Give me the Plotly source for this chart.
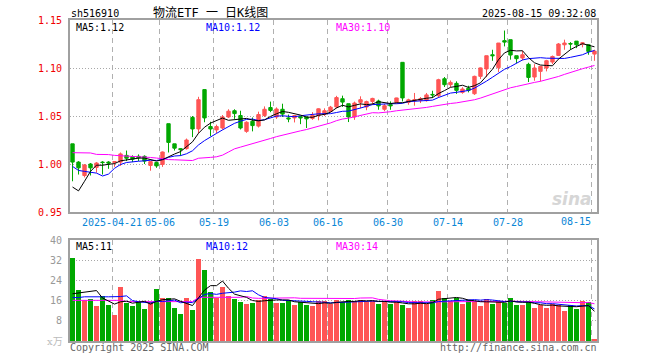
import plotly.graph_objects as go
import pandas as pd

# ---------------- data ----------------
dates = [
    "2025-04-10", "2025-04-11", "2025-04-14", "2025-04-15", "2025-04-16", "2025-04-17", "2025-04-18",
    "2025-04-21", "2025-04-22", "2025-04-23", "2025-04-24", "2025-04-25", "2025-04-28", "2025-04-29", "2025-04-30",
    "2025-05-06", "2025-05-07", "2025-05-08", "2025-05-09", "2025-05-12", "2025-05-13", "2025-05-14", "2025-05-15",
    "2025-05-16", "2025-05-19", "2025-05-20", "2025-05-21", "2025-05-22", "2025-05-23", "2025-05-26", "2025-05-27",
    "2025-05-28", "2025-05-29", "2025-05-30", "2025-06-03", "2025-06-04", "2025-06-05", "2025-06-06", "2025-06-09",
    "2025-06-10", "2025-06-11", "2025-06-12", "2025-06-13", "2025-06-16", "2025-06-17", "2025-06-18", "2025-06-19",
    "2025-06-20", "2025-06-23", "2025-06-24", "2025-06-25", "2025-06-26", "2025-06-27", "2025-06-30", "2025-07-01",
    "2025-07-02", "2025-07-03", "2025-07-04", "2025-07-07", "2025-07-08", "2025-07-09", "2025-07-10", "2025-07-11",
    "2025-07-14", "2025-07-15", "2025-07-16", "2025-07-17", "2025-07-18", "2025-07-21", "2025-07-22", "2025-07-23",
    "2025-07-24", "2025-07-25", "2025-07-28", "2025-07-29", "2025-07-30", "2025-07-31", "2025-08-01", "2025-08-04",
    "2025-08-05", "2025-08-06", "2025-08-07", "2025-08-08", "2025-08-11", "2025-08-12", "2025-08-13", "2025-08-14",
    "2025-08-15",
]
opens = [
    1.021, 1.002, 0.988, 1.000, 0.9965, 1.002, 1.002, 1.0015, 1.002, 1.009,
    1.0075, 1.008, 1.008, 0.9985, 1.0015, 0.9995, 1.042, 1.021, 1.016, 1.016,
    1.0485, 1.0365, 1.0775, 1.039, 1.0355, 1.0375, 1.049, 1.0555, 1.0505, 1.034,
    1.0445, 1.0395, 1.0505, 1.0588, 1.049, 1.057, 1.048, 1.048, 1.0493, 1.049,
    1.0475, 1.0505, 1.0515, 1.0548, 1.0594, 1.068, 1.0628, 1.049, 1.0642, 1.0594,
    1.0652, 1.0656, 1.057, 1.062, 1.0642, 1.1059, 1.0642, 1.066, 1.0663, 1.066,
    1.0725, 1.0711, 1.0888, 1.0826, 1.084, 1.0746, 1.079, 1.0732, 1.0913, 1.099,
    1.1138, 1.1003, 1.1285, 1.1295, 1.1128, 1.1104, 1.1038, 1.0906, 1.0965, 1.100,
    1.1062, 1.1131, 1.1242, 1.1255, 1.128, 1.125, 1.1242, 1.1145,
]
highs = [
    1.021, 1.003, 1.000, 1.001, 1.002, 1.003, 1.003, 1.003, 1.012, 1.014,
    1.009, 1.010, 1.009, 1.003, 1.002, 1.013, 1.042, 1.021, 1.0165, 1.0265,
    1.050, 1.070, 1.0775, 1.044, 1.041, 1.051, 1.057, 1.057, 1.0555, 1.0445,
    1.0485, 1.0545, 1.060, 1.065, 1.059, 1.0628, 1.0515, 1.051, 1.050, 1.0493,
    1.054, 1.058, 1.058, 1.0605, 1.071, 1.0712, 1.0628, 1.065, 1.0705, 1.066,
    1.069, 1.067, 1.0625, 1.0652, 1.069, 1.1059, 1.068, 1.074, 1.0697, 1.074,
    1.0763, 1.0888, 1.0906, 1.087, 1.0861, 1.080, 1.0815, 1.092, 1.1005, 1.1128,
    1.119, 1.126, 1.139, 1.1295, 1.1128, 1.118, 1.1055, 1.104, 1.102, 1.1085,
    1.113, 1.126, 1.1295, 1.127, 1.128, 1.127, 1.1245, 1.119,
]
lows = [
    0.982, 0.989, 0.986, 0.988, 0.991, 0.989, 0.995, 0.997, 0.998, 1.003,
    1.002, 1.003, 1.000, 0.993, 0.996, 0.997, 1.012, 1.014, 1.0085, 1.015,
    1.028, 1.032, 1.0435, 1.029, 1.032, 1.036, 1.048, 1.047, 1.036, 1.0325,
    1.034, 1.038, 1.049, 1.054, 1.047, 1.049, 1.0435, 1.0433, 1.0415, 1.0375,
    1.046, 1.0455, 1.050, 1.054, 1.058, 1.0594, 1.0437, 1.046, 1.058, 1.056,
    1.062, 1.0565, 1.055, 1.0565, 1.063, 1.0652, 1.0617, 1.0607, 1.0635, 1.065,
    1.0688, 1.069, 1.0802, 1.080, 1.073, 1.0732, 1.0746, 1.072, 1.0885, 1.0905,
    1.1075, 1.0958, 1.1225, 1.1087, 1.105, 1.108, 1.0854, 1.0867, 1.086, 1.0965,
    1.104, 1.1125, 1.119, 1.119, 1.1207, 1.1215, 1.1138, 1.1075,
]
closes = [
    1.002, 0.996, 0.999, 0.996, 1.001, 1.0015, 1.001, 1.0025, 1.0105, 1.006,
    1.005, 1.0065, 1.003, 1.0025, 0.998, 1.0125, 1.0225, 1.0165, 1.015, 1.025,
    1.0365, 1.067, 1.048, 1.0365, 1.039, 1.049, 1.055, 1.0525, 1.0375, 1.0435,
    1.040, 1.0515, 1.057, 1.0558, 1.0573, 1.052, 1.047, 1.0505, 1.048, 1.047,
    1.0506, 1.0575, 1.0555, 1.0592, 1.0692, 1.0645, 1.049, 1.0635, 1.067, 1.065,
    1.0683, 1.0605, 1.0607, 1.0605, 1.0688, 1.0688, 1.0668, 1.067, 1.068, 1.072,
    1.072, 1.0878, 1.0826, 1.085, 1.0767, 1.0781, 1.0767, 1.0913, 1.1001, 1.1128,
    1.1128, 1.126, 1.127, 1.1135, 1.1097, 1.1138, 1.0902, 1.100, 1.1017, 1.1076,
    1.112, 1.125, 1.126, 1.125, 1.1242, 1.1262, 1.1173, 1.1176,
]
volumes = [
    32.7, 20.3, 16.3, 16.7, 13.9, 17.9, 14.3, 10.3, 21.2, 15.2,
    13.9, 15.6, 12.7, 15.6, 20.7, 17.2, 16.9, 13.1, 10.7, 17.2,
    12.3, 32.3, 28.3, 19.5, 17.2, 21.5, 17.9, 16.7, 15.6, 14.7,
    15.2, 16.3, 17.9, 16.7, 15.2, 15.2, 16.3, 14.3, 15.6, 14.3,
    13.9, 15.9, 15.9, 14.6, 16.3, 15.3, 16.3, 15.9, 16.3, 15.6,
    15.9, 14.7, 16.0, 14.7, 15.6, 14.3, 13.1, 15.9, 15.9, 14.7,
    16.3, 19.9, 17.2, 15.9, 16.9, 14.7, 16.3, 15.9, 14.0, 16.7,
    14.7, 15.9, 15.2, 17.1, 14.3, 14.3, 15.9, 13.1, 14.3, 13.1,
    14.7, 14.3, 11.9, 14.3, 12.7, 15.9, 15.3, 0.7,
]
# moving-average values at the start of the window (history before the chart)
ma5_head = [0.976, 0.972, 0.982, 0.9923]
ma10_head = [0.9975, 0.9933, 0.9923, 0.9913, 0.9905, 0.9875, 0.9895, 0.9955, 0.9995]
ma30_head = [1.0118, 1.0118, 1.0118, 1.0115, 1.0100, 1.0100, 1.0098, 1.0090, 1.0086, 1.0085,
             1.0085, 1.0082, 1.0072, 1.0068, 1.0062, 1.0052, 1.0046, 1.0044, 1.0040, 1.0036,
             1.0036, 1.0060, 1.0068, 1.0069, 1.0075, 1.0092, 1.0125, 1.0158, 1.0176]
vma5_head = [18.7, 19.0, 19.5, 19.6]
vma10_head = [17.2, 17.2, 17.5, 17.6, 17.6, 17.5, 17.5, 17.5, 17.6]
vma30_head = [16.1, 16.1, 16.1, 16.1, 16.1, 16.1, 16.1, 16.1, 16.1, 15.6,
              15.6, 15.6, 15.6, 15.6, 15.6, 15.6, 15.6, 15.6, 15.6, 15.6,
              15.6, 17.3, 17.3, 17.3, 17.3, 17.3, 17.3, 17.3, 17.3]

tick_dates = ["2025-04-21", "2025-05-06", "2025-05-19", "2025-06-03", "2025-06-16",
              "2025-06-30", "2025-07-14", "2025-07-28", "2025-08-15"]
tick_labels = ["2025-04-21", "05-06", "05-19", "06-03", "06-16", "06-30", "07-14", "07-28", "08-15"]

price_ticks = [0.95, 1.00, 1.05, 1.10, 1.15]
vol_ticks = [8, 16, 24, 32, 40]


def moving_avg(values, n, head):
    s = pd.Series(values).rolling(n).mean().tolist()
    return list(head) + s[len(head):]


x = list(range(len(dates)))
ma5 = moving_avg(closes, 5, ma5_head)
ma10 = moving_avg(closes, 10, ma10_head)
ma30 = moving_avg(closes, 30, ma30_head)
vma5 = moving_avg(volumes, 5, vma5_head)
vma10 = moving_avg(volumes, 10, vma10_head)
vma30 = moving_avg(volumes, 30, vma30_head)

RED = "#ff5555"
GREEN = "#00a800"
MONO = "DejaVu Sans Mono"
TICK_BLUE = "#0a86d6"

vol_colors = [RED if c >= o else GREEN for o, c in zip(opens, closes)]

fig = go.Figure()
fig.add_trace(go.Candlestick(
    x=x, open=opens, high=highs, low=lows, close=closes,
    increasing=dict(line=dict(color=RED, width=1), fillcolor=RED),
    decreasing=dict(line=dict(color=GREEN, width=1), fillcolor=GREEN),
    whiskerwidth=0, xaxis="x", yaxis="y", hoverinfo="skip",
))
for vals, col in [(ma30, "#ff00ff"), (ma10, "#0000ff"), (ma5, "#000000")]:
    fig.add_trace(go.Scatter(x=x, y=vals, mode="lines", line=dict(color=col, width=1),
                             xaxis="x", yaxis="y", hoverinfo="skip"))

fig.add_trace(go.Bar(x=x, y=volumes, marker=dict(color=vol_colors, line=dict(width=0)),
                     width=0.83, xaxis="x2", yaxis="y2", hoverinfo="skip"))
for vals, col in [(vma30, "#ff00ff"), (vma10, "#0000ff"), (vma5, "#000000")]:
    fig.add_trace(go.Scatter(x=x, y=vals, mode="lines", line=dict(color=col, width=1),
                             xaxis="x2", yaxis="y2", hoverinfo="skip"))

L, R, T, B = 70, 597, 20, 341
W, H = 660, 360
main_bottom, vol_top = 212, 240

tickpos = [dates.index(d) - 0.42 for d in tick_dates]
xrange = [-0.42, len(dates) - 1 + 0.42]
# the last label sits left of its grid line (drawn as an annotation below)
axis_ticktext = tick_labels[:-1] + [""]

common_x = dict(range=xrange, showgrid=True, gridcolor="#b0b0b0", griddash="5px,4px", gridwidth=1,
                showline=True, linecolor="#a0a0a0", linewidth=2, mirror=True, zeroline=False,
                tickvals=tickpos, ticks="")

fig.update_layout(
    width=W, height=H,
    margin=dict(l=L, r=W - R, t=T, b=H - B),
    paper_bgcolor="white", plot_bgcolor="white",
    showlegend=False, boxgap=0.2, bargap=0,
    xaxis=dict(**common_x, anchor="y", ticktext=axis_ticktext,
               tickfont=dict(family=MONO, size=10, color=TICK_BLUE),
               rangeslider=dict(visible=False)),
    xaxis2=dict(**common_x, anchor="y2", matches="x", showticklabels=False),
    yaxis=dict(domain=[(B - main_bottom) / (B - T), 1], range=[0.95, 1.15],
               tickvals=price_ticks, ticktext=["%.2f" % v for v in price_ticks],
               tickfont=dict(family=MONO, size=10, color="#f00000"),
               showgrid=True, gridcolor="#a8a8a8", griddash="1px,2px",
               showline=True, linecolor="#a0a0a0", linewidth=2, mirror=True, zeroline=False,
               ticks="outside", ticklen=4, tickcolor="rgba(0,0,0,0)"),
    yaxis2=dict(domain=[0, (B - vol_top) / (B - T)], range=[0, 40],
                tickvals=vol_ticks, ticktext=[str(v) for v in vol_ticks],
                tickfont=dict(family=MONO, size=10, color="#999999"),
                showgrid=True, gridcolor="#a8a8a8", griddash="1px,2px",
                showline=True, linecolor="#a0a0a0", linewidth=2, mirror=True, zeroline=False,
                ticks="outside", ticklen=4, tickcolor="rgba(0,0,0,0)"),
)


def add_text(text, px, py, color="#000000", size=10, anchor="left", family=MONO, **kw):
    fig.add_annotation(text=text, x=(px - L) / (R - L), y=(B - py) / (B - T),
                       xref="paper", yref="paper", xanchor=anchor, yanchor="middle",
                       showarrow=False, font=dict(family=family, size=size, color=color),
                       borderpad=0, **kw)


add_text("sh516910", 70, 13)
add_text("物流ETF 一 日K线图", 210, 13, size=12, anchor="center",
         family="DejaVu Sans Mono, Noto Sans CJK SC")
add_text("2025-08-15 09:32:08", 597, 13, anchor="right")
add_text("MA5:1.12", 75, 27)
add_text("MA10:1.12", 205, 27, color="#0000ff")
add_text("MA30:1.10", 335, 27, color="#ff00ff")
add_text("MA5:11", 75, 246.5)
add_text("MA10:12", 205, 246.5, color="#0000ff")
add_text("MA30:14", 335, 246.5, color="#ff00ff")
add_text("Copyright 2025 SINA.COM", 69, 347, color="#666666")
add_text("http://finance.sina.com.cn", 598, 347, color="#666666", anchor="right")
add_text("x万", 64, 341, color="#bbbbbb", anchor="right", family="DejaVu Serif, Noto Sans CJK SC")
add_text("<b><i>sina</i></b>", 572, 199, color="#d6d6d6", size=17, anchor="center", family="DejaVu Sans")

# last date label, right-aligned to its grid line
fig.add_annotation(text=tick_labels[-1], x=tickpos[-1], xref="x", y=(B - 221.5) / (B - T), yref="paper",
                   xanchor="right", yanchor="middle", showarrow=False, borderpad=0,
                   font=dict(family=MONO, size=10, color=TICK_BLUE))

fig.write_html("out.html", config={"displayModeBar": False},
               post_script="document.body.style.margin='0';document.body.style.overflow='hidden';")
